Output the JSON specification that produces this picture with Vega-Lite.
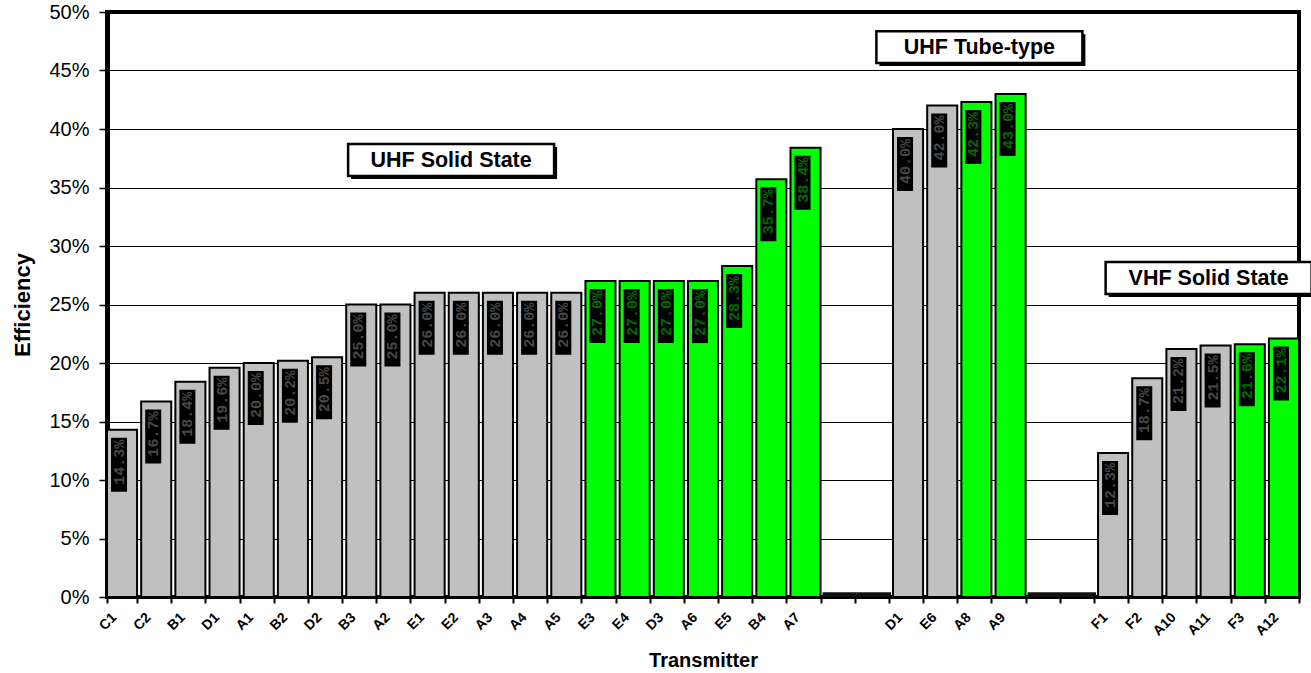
{
  "$schema": "https://vega.github.io/schema/vega-lite/v6.json",
  "autosize": {"type": "none"},
  "width": 1192,
  "height": 585,
  "padding": {"left": 107, "top": 12, "right": 12, "bottom": 76},
  "background": "white",
  "config": {
    "view": {"stroke": "#000000", "strokeWidth": 4},
    "font": "Liberation Sans"
  },
  "data": {
    "values": [
      {"name": "C1", "eff": 0.143, "cls": "std"},
      {"name": "C2", "eff": 0.167, "cls": "std"},
      {"name": "B1", "eff": 0.184, "cls": "std"},
      {"name": "D1", "eff": 0.196, "cls": "std"},
      {"name": "A1", "eff": 0.200, "cls": "std"},
      {"name": "B2", "eff": 0.202, "cls": "std"},
      {"name": "D2", "eff": 0.205, "cls": "std"},
      {"name": "B3", "eff": 0.250, "cls": "std"},
      {"name": "A2", "eff": 0.250, "cls": "std"},
      {"name": "E1", "eff": 0.260, "cls": "std"},
      {"name": "E2", "eff": 0.260, "cls": "std"},
      {"name": "A3", "eff": 0.260, "cls": "std"},
      {"name": "A4", "eff": 0.260, "cls": "std"},
      {"name": "A5", "eff": 0.260, "cls": "std"},
      {"name": "E3", "eff": 0.270, "cls": "hi"},
      {"name": "E4", "eff": 0.270, "cls": "hi"},
      {"name": "D3", "eff": 0.270, "cls": "hi"},
      {"name": "A6", "eff": 0.270, "cls": "hi"},
      {"name": "E5", "eff": 0.283, "cls": "hi"},
      {"name": "B4", "eff": 0.357, "cls": "hi"},
      {"name": "A7", "eff": 0.384, "cls": "hi"},
      {"name": "_1", "eff": 0.004, "cls": "gap"},
      {"name": "_2", "eff": 0.004, "cls": "gap"},
      {"name": "D1 ", "eff": 0.400, "cls": "std"},
      {"name": "E6", "eff": 0.420, "cls": "std"},
      {"name": "A8", "eff": 0.423, "cls": "hi"},
      {"name": "A9", "eff": 0.430, "cls": "hi"},
      {"name": "_3", "eff": 0.004, "cls": "gap"},
      {"name": "_4", "eff": 0.004, "cls": "gap"},
      {"name": "F1", "eff": 0.123, "cls": "std"},
      {"name": "F2", "eff": 0.187, "cls": "std"},
      {"name": "A10", "eff": 0.212, "cls": "std"},
      {"name": "A11", "eff": 0.215, "cls": "std"},
      {"name": "F3", "eff": 0.216, "cls": "hi"},
      {"name": "A12", "eff": 0.221, "cls": "hi"}
    ]
  },
  "encoding": {
    "x": {
      "field": "name",
      "type": "nominal",
      "sort": null,
      "scale": {
        "domain": ["C1","C2","B1","D1","A1","B2","D2","B3","A2","E1","E2","A3","A4","A5","E3","E4","D3","A6","E5","B4","A7","_1","_2","D1 ","E6","A8","A9","_3","_4","F1","F2","A10","A11","F3","A12"],
        "paddingInner": 0.12,
        "paddingOuter": 0.0
      },
      "axis": {
        "title": "Transmitter",
        "titleFont": "Liberation Sans",
        "titleFontSize": 20,
        "titleFontWeight": "bold",
        "titleColor": "#000000",
        "titlePadding": 12,
        "labelExpr": "substring(datum.label,0,1)=='_' ? '' : trim(datum.label)",
        "labelAngle": -45,
        "labelAlign": "right",
        "labelBaseline": "middle",
        "labelFont": "Liberation Sans",
        "labelFontSize": 14,
        "labelFontWeight": "bold",
        "labelColor": "#000000",
        "labelPadding": 12,
        "labelOffset": -8,
        "tickBand": "extent",
        "tickColor": "#000000",
        "tickSize": 6,
        "tickWidth": 2,
        "domainColor": "#000000",
        "domainWidth": 3,
        "grid": false
      }
    },
    "y": {
      "field": "eff",
      "type": "quantitative",
      "scale": {"domain": [0, 0.5], "nice": false},
      "axis": {
        "title": "Efficiency",
        "titleFont": "Liberation Sans",
        "titleFontSize": 22,
        "titleFontWeight": "bold",
        "titleColor": "#000000",
        "titlePadding": 14,
        "values": [0, 0.05, 0.1, 0.15, 0.2, 0.25, 0.3, 0.35, 0.4, 0.45, 0.5],
        "format": ".0%",
        "labelFont": "Liberation Sans",
        "labelFontSize": 20,
        "labelColor": "#000000",
        "labelPadding": 10,
        "tickColor": "#000000",
        "tickSize": 8,
        "tickWidth": 1.5,
        "domainColor": "#000000",
        "domainWidth": 5,
        "grid": true,
        "gridColor": "#000000",
        "gridWidth": 1.2,
        "gridOpacity": 1
      }
    }
  },
  "layer": [
    {
      "transform": [{"filter": "datum.cls == 'gap'"}],
      "mark": {"type": "bar", "width": {"band": 1.14}, "color": "#111111"}
    },
    {
      "transform": [{"filter": "datum.cls != 'gap'"}],
      "mark": {"type": "bar", "stroke": "#000000", "strokeWidth": 2},
      "encoding": {
        "color": {
          "field": "cls",
          "type": "nominal",
          "scale": {"domain": ["std", "hi"], "range": ["#C0C0C0", "#00FF00"]},
          "legend": null
        }
      }
    },
    {
      "transform": [{"filter": "datum.cls != 'gap'"}],
      "mark": {"type": "tick", "orient": "vertical", "size": 54, "thickness": 16, "yOffset": 35, "xOffset": -3, "color": "#000000", "opacity": 1}
    },
    {
      "transform": [{"filter": "datum.cls != 'gap'"}],
      "mark": {"type": "text", "angle": 270, "align": "right", "baseline": "middle", "yOffset": 10, "xOffset": -3, "font": "Liberation Mono", "fontSize": 15, "fontWeight": "bold"},
      "encoding": {
        "text": {"field": "eff", "type": "quantitative", "format": ".1%"},
        "color": {"condition": {"test": "datum.cls == 'hi'", "value": "#006b00"}, "value": "#484848"}
      }
    },
    {
      "data": {"values": [{"name": "E1", "eff": 0.3735, "note": "UHF Solid State"}]},
      "layer": [
        {"mark": {"type": "point", "shape": "M-1,-0.155H1V0.155H-1Z", "size": 42436, "filled": true, "color": "#000000", "opacity": 1, "xOffset": 24.5, "yOffset": 3}},
        {"mark": {"type": "point", "shape": "M-1,-0.155H1V0.155H-1Z", "size": 42436, "filled": true, "fill": "#FFFFFF", "stroke": "#000000", "strokeWidth": 2.5, "opacity": 1, "xOffset": 21.5}},
        {"mark": {"type": "text", "font": "Liberation Sans", "fontSize": 21.5, "fontWeight": "bold", "color": "#000000", "align": "center", "baseline": "middle", "xOffset": 21.5, "yOffset": 1}, "encoding": {"text": {"field": "note"}}}
      ]
    },
    {
      "data": {"values": [{"name": "A8", "eff": 0.47, "note": "UHF Tube-type"}]},
      "layer": [
        {"mark": {"type": "point", "shape": "M-1,-0.155H1V0.155H-1Z", "size": 42436, "filled": true, "color": "#000000", "opacity": 1, "xOffset": 6, "yOffset": 3}},
        {"mark": {"type": "point", "shape": "M-1,-0.155H1V0.155H-1Z", "size": 42436, "filled": true, "fill": "#FFFFFF", "stroke": "#000000", "strokeWidth": 2.5, "opacity": 1, "xOffset": 3}},
        {"mark": {"type": "text", "font": "Liberation Sans", "fontSize": 21.5, "fontWeight": "bold", "color": "#000000", "align": "center", "baseline": "middle", "xOffset": 3, "yOffset": 1}, "encoding": {"text": {"field": "note"}}}
      ]
    },
    {
      "data": {"values": [{"name": "A11", "eff": 0.2726, "note": "VHF Solid State"}]},
      "layer": [
        {"mark": {"type": "point", "shape": "M-1,-0.155H1V0.155H-1Z", "size": 42436, "filled": true, "color": "#000000", "opacity": 1, "xOffset": -4, "yOffset": 3}},
        {"mark": {"type": "point", "shape": "M-1,-0.155H1V0.155H-1Z", "size": 42436, "filled": true, "fill": "#FFFFFF", "stroke": "#000000", "strokeWidth": 2.5, "opacity": 1, "xOffset": -7}},
        {"mark": {"type": "text", "font": "Liberation Sans", "fontSize": 21.5, "fontWeight": "bold", "color": "#000000", "align": "center", "baseline": "middle", "xOffset": -7, "yOffset": 1}, "encoding": {"text": {"field": "note"}}}
      ]
    }
  ]
}
